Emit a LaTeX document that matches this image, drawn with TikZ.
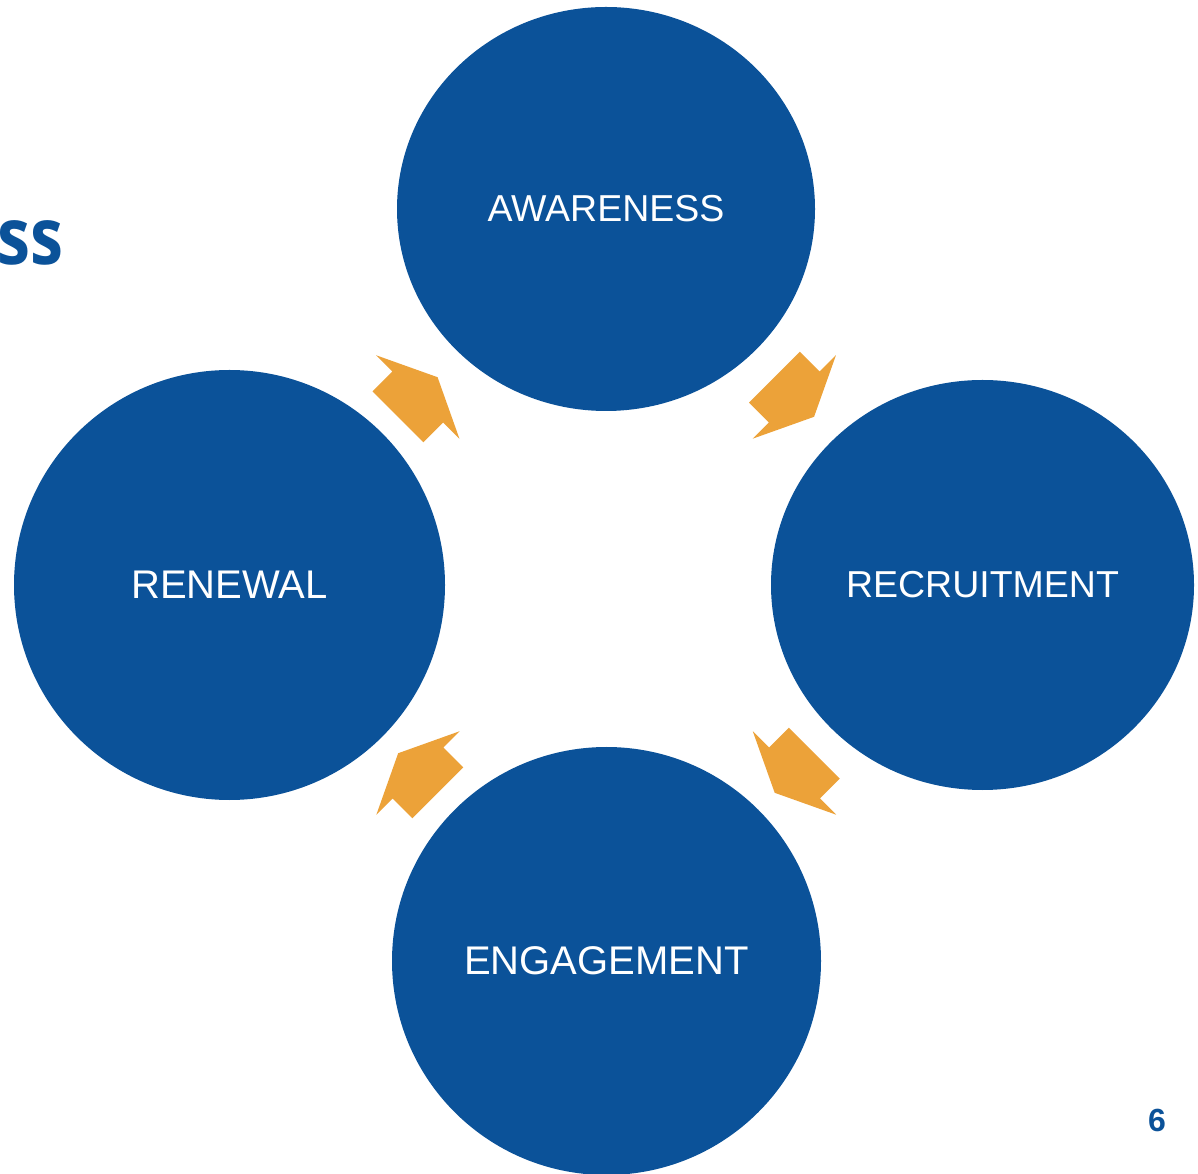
\documentclass[tikz,border=0pt]{standalone}
\usepackage{graphicx}
\usepackage{fontspec}
\setmainfont{Liberation Sans}
\newfontfamily\titlefont{Open Sans}
\usetikzlibrary{shapes.geometric,calc}

\definecolor{cycleblue}{RGB}{11,82,153}
\definecolor{cycleorange}{RGB}{236,162,57}

\tikzset{
  stage/.style={ellipse, fill=cycleblue, draw=none, inner sep=0pt,
    text=white, font=\fontsize{37.5}{40}\selectfont},
  bigstage/.style={stage, font=\fontsize{40}{44}\selectfont},
  blockarrow/.pic={
    \fill[cycleorange] (-28,-36) -- (0,-36) -- (0,-59) -- (28,0)
      -- (0,59) -- (0,36) -- (-28,36) -- cycle;
  }
}

\begin{document}
\begin{tikzpicture}[x=1pt,y=1pt]
  \useasboundingbox (0,0) rectangle (1198,1173);
  \fill[white] (0,0) rectangle (1198,1173);

  % title fragment at the left margin
  \node[anchor=base east, inner sep=0pt, text=cycleblue,
        font=\titlefont\bfseries\fontsize{79}{90}\selectfont] (title) at (64,908)
        {\scalebox{0.84}[1]{ss}};

  % the four stages
  \node[stage, minimum width=418, minimum height=404] (aw)  at (606,964)   {AWARENESS};
  \node[stage, minimum width=423, minimum height=410] (rec) at (982.5,588) {RECRUITMENT};
  \node[bigstage, minimum width=431, minimum height=430] (ren) at (229.5,588) {RENEWAL};
  \node[bigstage, minimum width=429, minimum height=428] (eng) at (606.5,212) {ENGAGEMENT};

  % block arrows between consecutive stages
  \path (ren.center) -- (aw.center)  pic[pos=0.5, sloped, allow upside down] {blockarrow};
  \path (aw.center)  -- (rec.center) pic[pos=0.5, sloped, allow upside down] {blockarrow};
  \path (rec.center) -- (eng.center) pic[pos=0.5, sloped, allow upside down] {blockarrow};
  \path (eng.center) -- (ren.center) pic[pos=0.5, sloped, allow upside down] {blockarrow};

  % page number
  \node[anchor=base, inner sep=0pt, text=cycleblue,
        font=\bfseries\fontsize{32}{36}\selectfont] (page) at (1157,42) {6};
\end{tikzpicture}
\end{document}
